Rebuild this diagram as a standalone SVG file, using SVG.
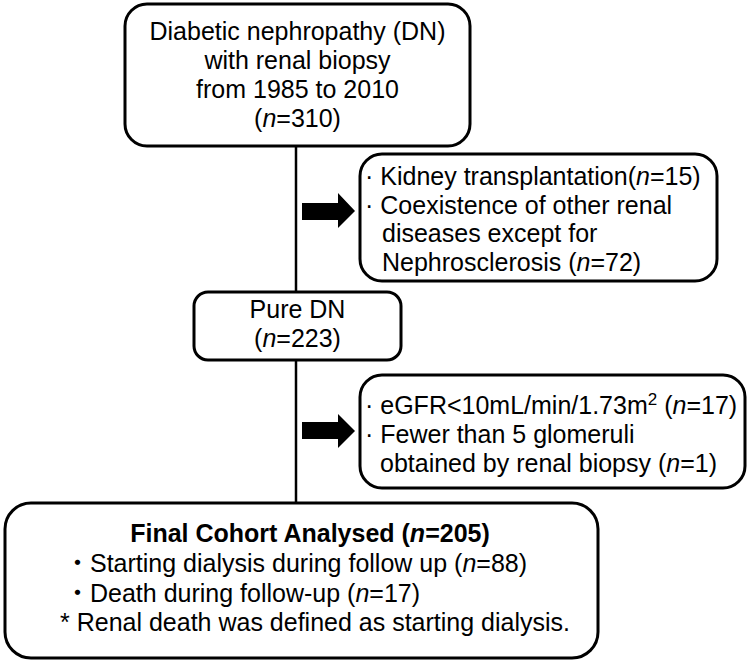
<svg xmlns="http://www.w3.org/2000/svg" width="750" height="664" viewBox="0 0 750 664">
<style>
.box{fill:#fff;stroke:#000;stroke-width:3}
.t{font-family:"Liberation Sans",Arial,"Noto Sans CJK JP",sans-serif;font-size:25px;fill:#000}
.c{text-anchor:middle}
.b{font-weight:bold}
.line{stroke:#000;stroke-width:2.5;fill:none}
.arr{fill:#000;stroke:none}
</style>
<rect width="750" height="664" fill="#fff"/>
<g id="connectors">
<line class="line" x1="296" y1="146" x2="296" y2="292"/>
<line class="line" x1="296" y1="360" x2="296" y2="503"/>
<polygon class="arr" points="302,203 338,203 338,193 355,211 338,228 338,220 302,220"/>
<polygon class="arr" points="302,422 338,422 338,414 355,431 338,448 338,439 302,439"/>
</g>
<g id="n1">
<rect class="box" x="125" y="4" width="345" height="142" rx="22"/>
<text class="t c" x="297.5" y="40">Diabetic nephropathy (DN)</text>
<text class="t c" x="297.5" y="69">with renal biopsy</text>
<text class="t c" x="297.5" y="98">from 1985 to 2010</text>
<text class="t c" x="297.5" y="127">(<tspan font-style="italic">n</tspan>=310)</text>
</g>
<g id="ex1">
<rect class="box" x="360" y="154" width="357" height="127" rx="22"/>
<text class="t" x="365" y="185">· Kidney transplantation(<tspan font-style="italic">n</tspan>=15)</text>
<text class="t" x="365" y="214">· Coexistence of other renal</text>
<text class="t" x="382" y="242">diseases except for</text>
<text class="t" x="382" y="271">Nephrosclerosis (<tspan font-style="italic">n</tspan>=72)</text>
</g>
<g id="n2">
<rect class="box" x="194" y="292" width="207" height="68" rx="14"/>
<text class="t c" x="297.5" y="318">Pure DN</text>
<text class="t c" x="297.5" y="347">(<tspan font-style="italic">n</tspan>=223)</text>
</g>
<g id="ex2">
<rect class="box" x="360" y="375" width="385" height="113" rx="22"/>
<text class="t" x="365" y="414">· eGFR&lt;10mL/min/1.73m<tspan font-size="17" dy="-9">2</tspan><tspan dy="9"> (</tspan><tspan font-style="italic">n</tspan>=17)</text>
<text class="t" x="365" y="443">· Fewer than 5 glomeruli</text>
<text class="t" x="380" y="472">obtained by renal biopsy (<tspan font-style="italic">n</tspan>=1)</text>
</g>
<g id="n3">
<rect class="box" x="5" y="503" width="593" height="155" rx="26"/>
<text class="t c b" x="310" y="542">Final Cohort Analysed (<tspan font-style="italic">n</tspan>=205)</text>
<text class="t" x="65" y="572">・Starting dialysis during follow up (<tspan font-style="italic">n</tspan>=88)</text>
<text class="t" x="65" y="602">・Death during follow-up (<tspan font-style="italic">n</tspan>=17)</text>
<text class="t" x="60" y="631">* Renal death was defined as starting dialysis.</text>
</g>
</svg>
